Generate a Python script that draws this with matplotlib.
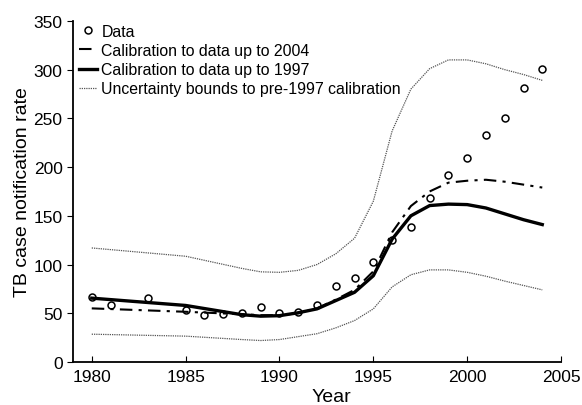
import numpy as np
import matplotlib.pyplot as plt

plt.rcParams['font.family'] = ['Liberation Sans', 'DejaVu Sans']

# notification data
data_years = [1980, 1981, 1983, 1985, 1986, 1987, 1988, 1989, 1990, 1991,
              1992, 1993, 1994, 1995, 1996, 1997, 1998, 1999, 2000, 2001,
              2002, 2003, 2004]
data_rate = [67, 58.5, 66, 53, 48.5, 49.5, 50, 56, 50, 51,
             58, 78, 86, 103, 125, 139, 168, 192, 209, 233,
             250, 281, 301]

# model curves
yrs = [1980, 1985, 1988, 1989, 1990, 1991, 1992, 1993, 1994, 1995, 1996,
       1997, 1998, 1999, 2000, 2001, 2002, 2003, 2004]
cal2004 = [55, 51.5, 49, 48, 48, 50, 55, 64, 74, 93, 133,
           160, 175, 184, 186, 187, 185, 182, 179]
cal1997 = [65.5, 58, 48.5, 47, 47.5, 50.5, 54.5, 63, 71.5, 88.5, 126,
           150, 160.5, 162, 161.5, 158, 152, 146, 141]
upper = [117, 108.5, 96, 92.5, 92, 94, 100, 111, 127, 165, 237,
         280, 301, 310, 310, 306, 300, 295, 289]
lower = [28.5, 26.5, 23, 22, 23, 26, 29, 35, 42.5, 54.5, 77,
         89.5, 94.5, 94.5, 92, 88, 83, 78.5, 74]

fig = plt.figure(figsize=(5.82, 4.06), dpi=100)
ax = fig.add_axes([0.1254, 0.106, 0.8386, 0.84])

ax.plot(data_years, data_rate, 'o', mfc='none', mec='black', ms=5, mew=1.1, label='Data')
ax.plot(yrs, cal2004, color='black', lw=1.5, ls=(0, (6, 3, 1.5, 3)), label='Calibration to data up to 2004')
ax.plot(yrs, cal1997, color='black', lw=2.4, label='Calibration to data up to 1997')
ax.plot(yrs, upper, color='#555555', lw=0.9, ls=(0, (1, 0.8)), label='Uncertainty bounds to pre-1997 calibration')
ax.plot(yrs, lower, color='#555555', lw=0.9, ls=(0, (1, 0.8)))

ax.set_xlim(1979, 2005)
ax.set_ylim(0, 350)
ax.set_xticks(np.arange(1980, 2006, 5))
ax.set_yticks(np.arange(0, 351, 50))
ax.spines['top'].set_visible(False)
ax.spines['right'].set_visible(False)
ax.spines['left'].set_linewidth(1.3)
ax.spines['bottom'].set_linewidth(1.3)
ax.tick_params(axis='x', direction='in', length=4, labelsize=12.5, pad=5)
ax.tick_params(axis='y', direction='out', length=4, labelsize=12.5)
ax.set_xlabel('Year', fontsize=14, labelpad=-2)
ax.xaxis.set_label_coords(0.53, -0.075)
ax.set_ylabel('TB case notification rate', fontsize=14, labelpad=2)

ax.legend(loc='upper left', frameon=False, fontsize=11.4, handlelength=1.1,
          handletextpad=0.3, labelspacing=0.26, borderaxespad=0.0,
          bbox_to_anchor=(0.0, 1.01))

fig.savefig('out.png', dpi=100)
